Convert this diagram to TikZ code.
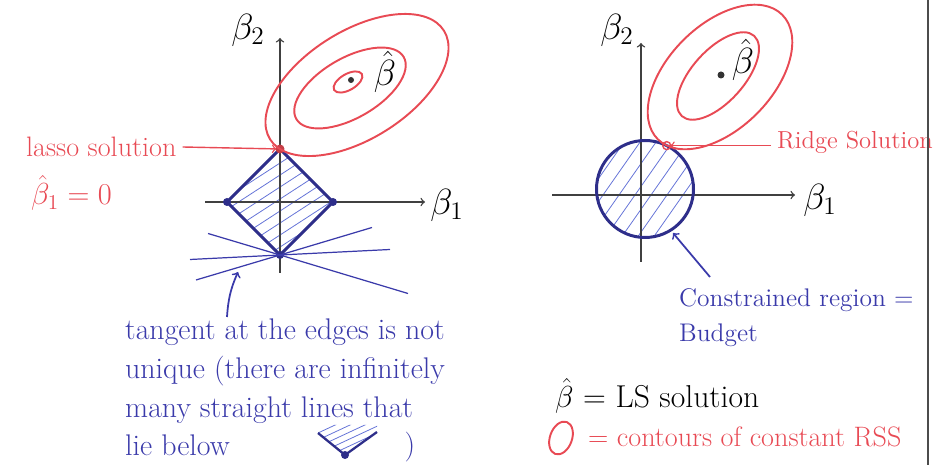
\documentclass[tikz,border=0pt]{standalone}
\usepackage{amsmath,amssymb}
\usepackage{tikz}
\usetikzlibrary{calc}

\definecolor{rsscol}{RGB}{232,74,84}
\definecolor{budgetcol}{RGB}{46,46,138}
\definecolor{hatchcol}{RGB}{100,115,215}
\definecolor{inkcol}{RGB}{58,58,170}

\tikzset{
  axis/.style={black!75, line width=0.8pt},
  rssline/.style={rsscol, line width=1.1pt},
  budgetline/.style={budgetcol, line width=1.7pt},
  hatchline/.style={hatchcol, line width=0.45pt},
  tangline/.style={inkcol, line width=0.7pt},
  axlabel/.style={font=\fontsize{20}{24}\selectfont},
  ink/.style={inkcol},
  rsstext/.style={rsscol}
}

\begin{document}
\begin{tikzpicture}[every node/.style={font=\fontsize{14}{22}\selectfont}, >=to]
	\useasboundingbox (0,0) rectangle (18.96,9.3);
	% lasso panel
	\begin{scope}[shift={(5.6,5.26)}]
		\coordinate (lxa) at (-1.5,0);
		\coordinate (lxb) at (2.9,0);
		\coordinate (lya) at (0,-1.42);
		\coordinate (lyb) at (0,3.28);
		\coordinate (ltop) at (0,1.06);
		\coordinate (lrgt) at (1.06,0);
		\coordinate (lbot) at (0,-1.06);
		\coordinate (llft) at (-1.06,0);
		% hatched diamond
		\begin{scope}
			\clip (ltop) -- (lrgt) -- (lbot) -- (llft) -- cycle;
			\foreach \k in {-12,...,5}
				\draw[hatchline] (-1.2,{\k*0.24}) -- ++(33:3);
		\end{scope}
		\draw[axis, ->] (lxa) -- (lxb);
		\draw[axis, ->] (lya) -- (lyb);
		\node[axlabel] (lb1) at (3.34,-0.06) {$\beta_1$};
		\node[axlabel] (lb2) at (-0.64,3.44) {$\beta_2$};
		\draw[budgetline, line join=round] (ltop) -- (lrgt) -- (lbot) -- (llft) -- cycle;
		\foreach \p in {lrgt,lbot,llft}
			\fill[budgetcol] (\p) circle (0.08);
		\fill[rsscol!85!black] (ltop) circle (0.09);
		% tangents through the bottom corner
		\coordinate (lt1a) at (-1.44,-0.63);
		\coordinate (lt1b) at (2.56,-1.83);
		\coordinate (lt2a) at (-1.8,-1.15);
		\coordinate (lt2b) at (2.2,-0.95);
		\coordinate (lt3a) at (-1.68,-1.56);
		\coordinate (lt3b) at (1.84,-0.51);
		\draw[tangline] (lt1a) -- (lbot) -- (lt1b);
		\draw[tangline] (lt2a) -- (lbot) -- (lt2b);
		\draw[tangline] (lt3a) -- (lbot) -- (lt3b);
		% RSS contours
		\draw[rssline, rotate around={32:(1.54,2.34)}] (1.54,2.34) ellipse (2.05 and 1.08);
		\draw[rssline, rotate around={30:(1.4,2.28)}] (1.4,2.28) ellipse (1.24 and 0.6);
		\draw[rssline, rotate around={30:(1.36,2.4)}] (1.36,2.4) ellipse (0.32 and 0.16);
		\fill[black!80] (1.42,2.44) circle (0.06);
		\node[axlabel] (lbhat) at (2.1,2.6) {$\hat{\beta}$};
		% labels
		\node[rsstext, anchor=west, font=\fontsize{16}{20}\selectfont] (lassolbl) at (-5.2,1.1) {lasso solution};
		\node[rsstext, anchor=west, font=\fontsize{17}{20}\selectfont] (lassozero) at (-5.1,0.18) {$\hat{\beta}_1 = 0$};
		\draw[rssline, line width=0.8pt, ->, shorten >=2pt] (lassolbl.east) -- (ltop);
		\node[ink, anchor=north west, align=left, font=\fontsize{17}{22}\selectfont] (tangentlbl) at (-3.22,-2.22)
			{tangent at the edges is not\\ unique (there are infinitely\\ many straight lines that\\ lie below};
		\node[ink, font=\fontsize{17}{22}\selectfont] (closeparen) at (2.6,-4.9) {)};
		\coordinate (tangentarr) at (-1.06,-2.3);
		\draw[tangline, line width=1pt, ->] (tangentarr) to[bend left=10] (-0.84,-1.4);
		% little corner in the text
		\begin{scope}[shift={(1.3,-5.06)}]
			\coordinate (mdot) at (0,0);
			\coordinate (mlft) at (-0.54,0.44);
			\coordinate (mrgt) at (0.64,0.46);
			\begin{scope}
				\clip (mlft) -- (mdot) -- (mrgt) -- (0.64,0.6) -- (-0.54,0.6) -- cycle;
				\foreach \k in {0,...,4}
					\draw[hatchline] ($(mdot)!{0.2+\k*0.2}!(mlft)$) -- ++(25:1);
			\end{scope}
			\draw[budgetline, line width=1.3pt] (mlft) -- (mdot) -- (mrgt);
			\fill[budgetcol] (mdot) circle (0.08);
		\end{scope}
	\end{scope}
	% ridge panel
	\begin{scope}[shift={(12.82,5.4)}]
		\coordinate (rxa) at (-1.78,0);
		\coordinate (rxb) at (3.08,0);
		\coordinate (rya) at (0,-1.34);
		\coordinate (ryb) at (0,3.04);
		\coordinate (rctr) at (0.08,0.12);
		% hatched disc
		\begin{scope}
			\clip (rctr) circle (0.97);
			\foreach \k in {-8,...,4}
				\draw[hatchline] ({\k*0.32},-1.2) -- ++(55:3);
		\end{scope}
		\draw[axis, ->] (rxa) -- (rxb);
		\draw[axis, ->] (rya) -- (ryb);
		\node[axlabel] (rb1) at (3.58,-0.1) {$\beta_1$};
		\node[axlabel] (rb2) at (-0.48,3.3) {$\beta_2$};
		\draw[budgetline] (rctr) circle (0.97);
		% RSS contours
		\draw[rssline, rotate around={45:(1.58,2.36)}] (1.58,2.36) ellipse (1.76 and 1.04);
		\draw[rssline, rotate around={48:(1.54,2.38)}] (1.54,2.38) ellipse (1.08 and 0.52);
		\fill[black!80] (1.6,2.4) circle (0.07);
		\node[axlabel] (rbhat) at (2.04,2.7) {$\hat{\beta}$};
		\coordinate (rsol) at ($(rctr)+(63.4:0.97)$);
		\draw[rssline, line width=0.8pt] (rsol) circle (0.08);
		\node[rsstext, anchor=west] (ridgelbl) at (2.6,1.06) {Ridge Solution};
		\draw[rssline, line width=0.8pt, ->, shorten >=2pt] (ridgelbl.west |- rsol) -- (rsol);
		\node[ink, anchor=north west, align=left, font=\fontsize{14.5}{20}\selectfont] (budgetlbl) at (0.64,-1.74)
			{Constrained region =\\ Budget};
		\draw[tangline, line width=1pt, ->] (budgetlbl.north west) ++(0.74,0.1) -- (0.64,-0.76);
		% legend
		\node[anchor=west, font=\fontsize{18}{22}\selectfont] (lslbl) at (-1.84,-4.02) {$\hat{\beta}$ = LS solution};
		\draw[rssline, rotate around={-20:(-1.6,-4.86)}] (-1.6,-4.86) ellipse (0.22 and 0.34);
		\node[rsstext, anchor=west, font=\fontsize{16}{20}\selectfont] (rsslbl) at (-1.18,-4.84) {= contours of constant RSS};
	\end{scope}
	\draw[black!70, line width=0.6pt] (18.56,0) -- (18.56,9.3);
\end{tikzpicture}
\end{document}
